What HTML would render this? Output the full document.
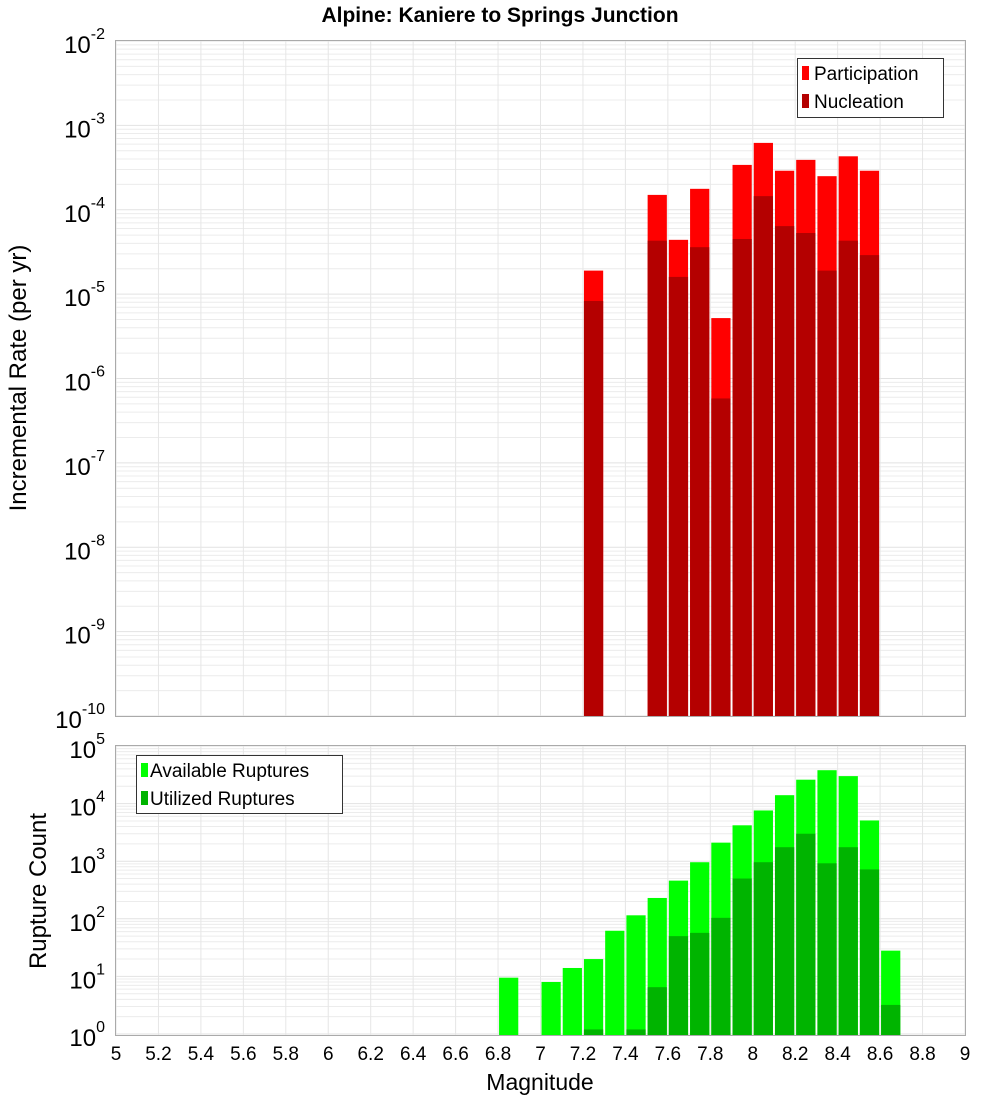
<!DOCTYPE html>
<html><head><meta charset="utf-8"><style>
body{margin:0;background:#fff;}
svg text{font-family:"Liberation Sans","DejaVu Sans",sans-serif;}
</style></head><body>
<svg id="chart" width="1000" height="1100" xmlns="http://www.w3.org/2000/svg">
<rect width="1000" height="1100" fill="#fff"/>
<text x="500" y="22" text-anchor="middle" font-size="21" font-weight="bold">Alpine: Kaniere to Springs Junction</text>
<g id="top"></g><g id="bot"></g><g id="xaxis"></g>
</svg>
<script>
const topMags=[7.25,7.55,7.65,7.75,7.85,7.95,8.05,8.15,8.25,8.35,8.45,8.55];
const participation=[1.9e-5,1.5e-4,4.4e-5,1.77e-4,5.2e-6,3.4e-4,6.2e-4,2.9e-4,3.9e-4,2.5e-4,4.3e-4,2.9e-4];
const nucleation=[8.3e-6,4.3e-5,1.6e-5,3.6e-5,5.8e-7,4.5e-5,1.45e-4,6.4e-5,5.3e-5,1.9e-5,4.3e-5,2.9e-5];
const botMags=[6.85,7.05,7.15,7.25,7.35,7.45,7.55,7.65,7.75,7.85,7.95,8.05,8.15,8.25,8.35,8.45,8.55,8.65];
const available=[9.5,8,14,20,62,115,230,460,960,2100,4200,7600,14000,26000,38000,30000,5100,28];
const utilized=[0,0,0,1.2,0,1.2,6.5,50,57,104,500,960,1750,3000,920,1750,720,3.2];
const xTicks=[5,5.2,5.4,5.6,5.8,6,6.2,6.4,6.6,6.8,7,7.2,7.4,7.6,7.8,8,8.2,8.4,8.6,8.8,9];
const topDecades=[-10,-9,-8,-7,-6,-5,-4,-3,-2];
const botDecades=[0,1,2,3,4,5];

const NS="http://www.w3.org/2000/svg";
const X0=116,X1=965;
const xs=m=>X0+(m-5)/4*(X1-X0);
const TT=41,TB=716,BT=746,BB=1035;
const yTop=v=>TT+(-2-Math.log10(v))/8*(TB-TT);
const BOT0=1034;
const yBot=v=>Math.min(BB,BOT0-Math.log10(v)*((BOT0-BT)/5));
function el(tag,attrs,parent){const e=document.createElementNS(NS,tag);for(const k in attrs)e.setAttribute(k,attrs[k]);parent.appendChild(e);return e;}
const topG=document.getElementById('top'),botG=document.getElementById('bot'),xG=document.getElementById('xaxis');

function grid(g,y0,y1,yf,decs){
  for(let i=0;i<decs.length-1;i++)for(let k=2;k<=9;k++){
    const y=yf(k*Math.pow(10,decs[i]));
    const l=el('line',{x1:X0,x2:X1,y1:y,y2:y,stroke:'#ececec','stroke-width':1},g);
    
    
  }
  decs.forEach(d=>{const y=yf(Math.pow(10,d));const l=el('line',{x1:X0,x2:X1,y1:y,y2:y,stroke:'#e2e2e2','stroke-width':1},g);
    
    });
  xTicks.forEach(t=>{const x=xs(t);const l=el('line',{x1:x,x2:x,y1:y0,y2:y1,stroke:'#e6e6e6','stroke-width':1},g);
    
    });
}
function decLabel(g,y,d,name){
  const t=el('text',{x:105,y:y+12,'text-anchor':'end','font-size':24},g);
  
  
  t.textContent='10';
  const s=el('tspan',{dy:-14,'font-size':16},t);s.textContent=String(d);
}
grid(topG,TT,TB,yTop,topDecades);
topDecades.forEach(d=>decLabel(topG,yTop(Math.pow(10,d)),d,'y-tick-label'));
function bars(g,mags,vals,yf,base,color,name){
  mags.forEach((m,i)=>{if(!(vals[i]>0))return;const y=yf(vals[i]);
    const r=el('rect',{x:xs(m-0.05)+1,y:y,width:xs(m+0.05)-xs(m-0.05)-2,height:base-y,fill:color},g);
    
    });
}
bars(topG,topMags,participation,yTop,TB,'#ff0000','participation-bar');
bars(topG,topMags,nucleation,yTop,TB,'#b40000','nucleation-bar');
el('rect',{x:X0-0.5,y:TT-0.5,width:X1-X0+1,height:TB-TT+1,fill:'none',stroke:'#aaa'},topG);
const yl1=el('text',{x:0,y:0,'text-anchor':'middle','font-size':24,transform:'translate(26,378) rotate(-90)'},topG);
yl1.textContent='Incremental Rate (per yr)';
// legend top
el('rect',{x:797.5,y:58.5,width:146,height:59,fill:'#fff',stroke:'#333'},topG);
el('rect',{x:802,y:66,width:7,height:14,fill:'#ff0000'},topG);
el('rect',{x:802,y:94,width:7,height:14,fill:'#b40000'},topG);
const lp=el('text',{x:814,y:80,'font-size':19},topG);lp.textContent='Participation';
const ln=el('text',{x:814,y:108,'font-size':19},topG);ln.textContent='Nucleation';

grid(botG,BT,BB,yBot,botDecades);
botDecades.forEach(d=>decLabel(botG,yBot(Math.pow(10,d)),d,'y-tick-label-bottom'));
bars(botG,botMags,available,yBot,BB,'#00ff00','available-bar');
bars(botG,botMags,utilized,yBot,BB,'#00b400','utilized-bar');
el('rect',{x:X0-0.5,y:BT-0.5,width:X1-X0+1,height:BB-BT+1,fill:'none',stroke:'#aaa'},botG);
const yl2=el('text',{x:0,y:0,'text-anchor':'middle','font-size':24,transform:'translate(46,891) rotate(-90)'},botG);
yl2.textContent='Rupture Count';
el('rect',{x:136.5,y:755.5,width:206,height:58,fill:'#fff',stroke:'#333'},botG);
el('rect',{x:141,y:763,width:7,height:14,fill:'#00ff00'},botG);
el('rect',{x:141,y:791,width:7,height:14,fill:'#00b400'},botG);
const la=el('text',{x:150,y:777,'font-size':19},botG);la.textContent='Available Ruptures';
const lu=el('text',{x:150,y:805,'font-size':19},botG);lu.textContent='Utilized Ruptures';

xTicks.forEach(t=>{const tx=el('text',{x:xs(t),y:1060,'text-anchor':'middle','font-size':19},xG);
  
  
  tx.textContent=String(t);});
const xt=el('text',{x:540,y:1090,'text-anchor':'middle','font-size':23},xG);
xt.textContent='Magnitude';
</script>
</body></html>
